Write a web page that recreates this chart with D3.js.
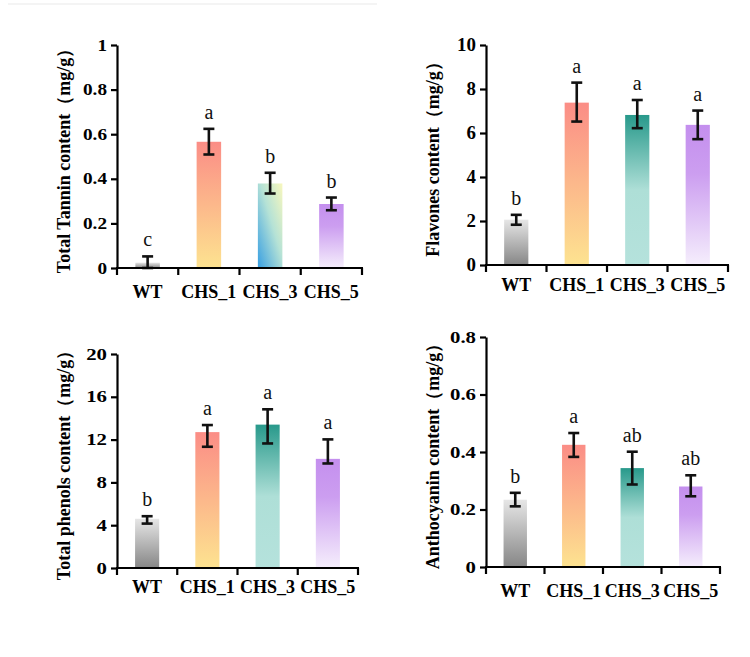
<!DOCTYPE html>
<html>
<head>
<meta charset="utf-8">
<script src="https://cdn.jsdelivr.net/npm/d3@7"></script>
<style>
  body { margin: 0; background: #fff; }
  svg { display: block; }
</style>
</head>
<body>
<div id="chart"></div>
<script>
// categories shared by all four panels
const categories = ["WT", "CHS_1", "CHS_3", "CHS_5"];

// Total tannin (mg/g)
const tanninMean = [0.024, 0.566, 0.379, 0.287];
const tanninLow = [0.0, 0.509, 0.334, 0.259];
const tanninHigh = [0.052, 0.624, 0.427, 0.316];
const tanninLetters = ["c", "a", "b", "b"];
const tanninTicks = [0, 0.2, 0.4, 0.6, 0.8, 1];

// Flavones (mg/g)
const flavMean = [2.06, 7.38, 6.82, 6.37];
const flavLow = [1.83, 6.52, 6.22, 5.72];
const flavHigh = [2.28, 8.29, 7.5, 7.02];
const flavLetters = ["b", "a", "a", "a"];
const flavTicks = [0, 2, 4, 6, 8, 10];

// Total phenols (mg/g)
const phenMean = [4.6, 12.7, 13.4, 10.2];
const phenLow = [4.15, 11.33, 11.64, 9.77];
const phenHigh = [4.84, 13.36, 14.83, 12.02];
const phenLetters = ["b", "a", "a", "a"];
const phenTicks = [0, 4, 8, 12, 16, 20];

// Anthocyanin (mg/g)
const anthMean = [0.234, 0.425, 0.344, 0.28];
const anthLow = [0.211, 0.383, 0.287, 0.246];
const anthHigh = [0.258, 0.466, 0.401, 0.319];
const anthLetters = ["b", "a", "ab", "ab"];
const anthTicks = [0, 0.2, 0.4, 0.6, 0.8];

const W = 750, H = 657;
const svg = d3.select("#chart").append("svg")
    .attr("width", W)
    .attr("height", H);

// faint rule at the very top of the figure
svg.append("line")
    .attr("x1", 8).attr("x2", 377).attr("y1", 4).attr("y2", 4)
    .attr("stroke", "#f0f0f0").attr("stroke-width", 1.5);

// gradients
const defs = svg.append("defs");
function grad(id, stops, dir) {
    const g = defs.append("linearGradient").attr("id", id)
        .attr("x1", dir[0]).attr("y1", dir[1]).attr("x2", dir[2]).attr("y2", dir[3]);
    stops.forEach(s => g.append("stop").attr("offset", s[0]).attr("stop-color", s[1]));
}
const down = [0, 0, 0, 1];
grad("g-gray", [[0, "#e6e6e6"], [1, "#868686"]], down);
grad("g-salmon", [[0, "#fb8d86"], [1, "#fde390"]], down);
grad("g-teal", [[0, "#28998b"], [0.5, "#aedfd7"], [1, "#b5e2dc"]], down);
grad("g-purple", [[0, "#c48fee"], [0.35, "#cc9ef0"], [1, "#f5eefc"]], down);
grad("g-blue", [[0, "#389fe2"], [0.55, "#b5e2d6"], [1, "#f8f7bd"]], [0, 1, 1, 0]);

const serif = "'Liberation Serif', 'Times New Roman', serif";

const panels = [
    { label: "Total Tannin content（mg/g）", mean: tanninMean, low: tanninLow, high: tanninHigh,
      letters: tanninLetters, ticks: tanninTicks,
      fills: ["g-gray", "g-salmon", "g-blue", "g-purple"],
      ox: 117, oy: 268, top: 45, right: 362, tickFont: 16, tickSx: 1.2, labelDy: 30 },
    { label: "Flavones content（mg/g）", mean: flavMean, low: flavLow, high: flavHigh,
      letters: flavLetters, ticks: flavTicks,
      fills: ["g-gray", "g-salmon", "g-teal", "g-purple"],
      ox: 486, oy: 265, top: 45, right: 728, tickFont: 18, tickSx: 1.05, labelDy: 26 },
    { label: "Total phenols content（mg/g）", mean: phenMean, low: phenLow, high: phenHigh,
      letters: phenLetters, ticks: phenTicks,
      fills: ["g-gray", "g-salmon", "g-teal", "g-purple"],
      ox: 117, oy: 568, top: 354, right: 358, tickFont: 16, tickSx: 1.3, labelDy: 25 },
    { label: "Anthocyanin content（mg/g）", mean: anthMean, low: anthLow, high: anthHigh,
      letters: anthLetters, ticks: anthTicks,
      fills: ["g-gray", "g-salmon", "g-teal", "g-purple"],
      ox: 486, oy: 567, top: 337, right: 720, tickFont: 16, tickSx: 1.3, labelDy: 30 }
];

panels.forEach(p => {
    const g = svg.append("g");
    const y = d3.scaleLinear()
        .domain([0, d3.max(p.ticks)])
        .range([p.oy, p.top]);
    const x = d3.scaleBand()
        .domain(categories)
        .range([p.ox, p.right])
        .padding(0);
    const bw = x.bandwidth() * 0.4;

    const rows = categories.map((c, i) => ({
        c: c, v: p.mean[i], lo: p.low[i], hi: p.high[i], t: p.letters[i], f: p.fills[i]
    }));

    // bars
    g.selectAll("rect.bar").data(rows).join("rect")
        .attr("class", "bar")
        .attr("x", d => x(d.c) + x.bandwidth() / 2 - bw / 2)
        .attr("width", bw)
        .attr("y", d => y(d.v))
        .attr("height", d => y(0) - y(d.v))
        .attr("fill", d => "url(#" + d.f + ")");

    // error bars
    const eb = g.selectAll("g.err").data(rows).join("g")
        .attr("class", "err")
        .attr("transform", d => "translate(" + (x(d.c) + x.bandwidth() / 2) + ",0)");
    eb.append("line")
        .attr("y1", d => y(d.lo)).attr("y2", d => y(d.hi))
        .attr("stroke", "#111").attr("stroke-width", 2.6);
    [d => y(d.lo), d => y(d.hi)].forEach(fy => {
        eb.append("line")
            .attr("x1", -5.5).attr("x2", 5.5)
            .attr("y1", fy).attr("y2", fy)
            .attr("stroke", "#111").attr("stroke-width", 2.6);
    });

    // significance letters
    g.selectAll("text.sig").data(rows).join("text")
        .attr("class", "sig")
        .attr("x", d => x(d.c) + x.bandwidth() / 2)
        .attr("y", d => y(d.hi) - 10)
        .attr("text-anchor", "middle")
        .attr("font-family", serif)
        .attr("font-size", "20px")
        .attr("fill", "#111")
        .text(d => d.t);

    // y axis
    const yAxis = g.append("g")
        .attr("transform", "translate(" + p.ox + ",0)")
        .call(d3.axisLeft(y)
            .tickValues(p.ticks)
            .tickSize(6)
            .tickSizeOuter(0)
            .tickFormat(d => String(+d.toFixed(1))));
    yAxis.select(".domain").attr("stroke", "#000").attr("stroke-width", 2.2);
    yAxis.selectAll(".tick line").attr("stroke", "#000").attr("stroke-width", 2.2);
    yAxis.selectAll(".tick text")
        .attr("x", 0)
        .attr("dx", 0)
        .attr("font-family", serif)
        .attr("font-weight", "bold")
        .attr("font-size", p.tickFont + "px")
        .attr("fill", "#000")
        .attr("transform", "translate(-10,0) scale(" + p.tickSx + ",1)");

    // x axis line + boundary ticks
    g.append("line")
        .attr("x1", p.ox - 1).attr("x2", p.right + 1)
        .attr("y1", p.oy).attr("y2", p.oy)
        .attr("stroke", "#000").attr("stroke-width", 2.2);
    const bounds = [p.ox].concat(categories.map(c => x(c) + x.bandwidth()));
    g.selectAll("line.xt").data(bounds).join("line")
        .attr("class", "xt")
        .attr("x1", d => d).attr("x2", d => d)
        .attr("y1", p.oy).attr("y2", p.oy + 7)
        .attr("stroke", "#000").attr("stroke-width", 2.2);

    g.selectAll("text.xl").data(categories).join("text")
        .attr("class", "xl")
        .attr("x", d => x(d) + x.bandwidth() / 2)
        .attr("y", p.oy + p.labelDy)
        .attr("text-anchor", "middle")
        .attr("font-family", serif)
        .attr("font-weight", "bold")
        .attr("font-size", "18px")
        .attr("fill", "#000")
        .text(d => d);

    // y label
    g.append("text")
        .attr("transform", "translate(" + (p.ox - 53) + "," + ((p.oy + p.top) / 2) + ") rotate(-90)")
        .attr("text-anchor", "middle")
        .attr("dy", "0.35em")
        .attr("font-family", serif)
        .attr("font-weight", "bold")
        .attr("font-size", "18px")
        .attr("fill", "#000")
        .text(p.label);
});
</script>
</body>
</html>
